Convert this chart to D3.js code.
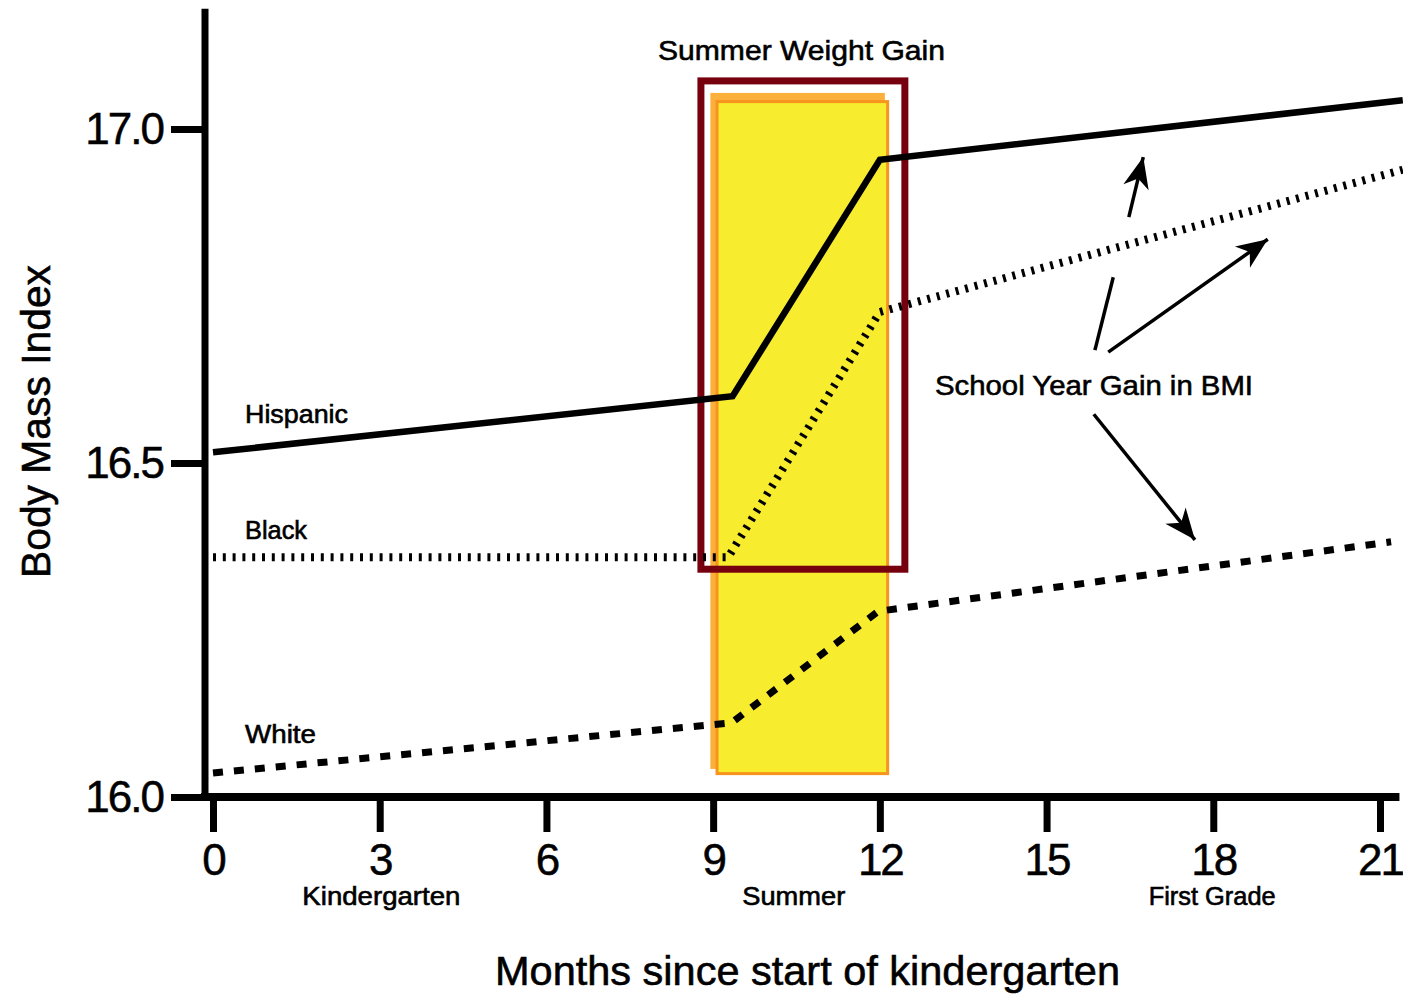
<!DOCTYPE html>
<html>
<head>
<meta charset="utf-8">
<script src="https://cdn.jsdelivr.net/npm/d3@7"></script>
<style>
  html, body { margin: 0; padding: 0; background: #fff; }
  svg { display: block; }
  text { font-family: "Liberation Sans", Arial, sans-serif; fill: #000; }
</style>
</head>
<body>
<svg id="chart" width="1403" height="995"></svg>
<script>
// ---------------- data ----------------
const xTicks = [0, 3, 6, 9, 12, 15, 18, 21];
const yTicks = [16.0, 16.5, 17.0];

const hispanicMonths = [0, 9.35, 12, 21.41];
const hispanicBMI    = [16.516, 16.600, 16.954, 17.043];

const blackMonths = [0, 9.27, 12, 21.41];
const blackBMI    = [16.359, 16.359, 16.726, 16.939];

const whiteMonths = [0, 9.33, 11.97, 21.2];
const whiteBMI    = [16.036, 16.111, 16.278, 16.382];

const seriesNames = ["Hispanic", "Black", "White"];
const periodLabels = ["Kindergarten", "Summer", "First Grade"];
const periodMonths = [3.03, 10.45, 17.98];

// ---------------- scales ----------------
const svg = d3.select("#chart");
const x = d3.scaleLinear().domain([0, 21]).range([213, 1380]);
const y = d3.scaleLinear().domain([16, 17]).range([797, 129]);

// ---------------- summer highlight ----------------
const g = svg.append("g");
g.append("rect")
  .attr("x", x(8.95)).attr("y", y(17.054))
  .attr("width", x(12.09) - x(8.95)).attr("height", y(16.042) - y(17.054))
  .attr("fill", "#fbb03b");
g.append("rect")
  .attr("x", x(9.07)).attr("y", y(17.041))
  .attr("width", x(12.14) - x(9.07)).attr("height", y(16.035) - y(17.041))
  .attr("fill", "#f8ec2f").attr("stroke", "#f7941d").attr("stroke-width", 3);
g.append("rect")
  .attr("x", x(8.78)).attr("y", y(17.072))
  .attr("width", x(12.45) - x(8.78)).attr("height", y(16.341) - y(17.072))
  .attr("fill", "none").attr("stroke", "#77000f").attr("stroke-width", 7);

// ---------------- lines ----------------
const line = d3.line().x(d => x(d[0])).y(d => y(d[1]));
const series = [
  { m: hispanicMonths, v: hispanicBMI, width: 6.5, dash: null },
  { m: blackMonths,    v: blackBMI,    width: 8,   dash: "3,6.8" },
  { m: whiteMonths,    v: whiteBMI,    width: 7,   dash: "10,11" }
];
series.forEach(s => {
  svg.append("path")
    .datum(d3.zip(s.m, s.v))
    .attr("d", line)
    .attr("fill", "none")
    .attr("stroke", "#000")
    .attr("stroke-width", s.width)
    .attr("stroke-dasharray", s.dash);
});

// ---------------- axes ----------------
const yAxis = d3.axisLeft(y).tickValues(yTicks).tickSize(34).tickPadding(8)
  .tickFormat(d3.format(".1f"));
const ya = svg.append("g").attr("transform", "translate(205,0)").call(yAxis);
ya.select(".domain").remove();
ya.selectAll(".tick line").attr("stroke", "#000").attr("stroke-width", 7);
ya.selectAll(".tick text").attr("font-size", 44).attr("letter-spacing", -2)
  .attr("font-family", "Liberation Sans, Arial, sans-serif")
  .attr("stroke", "#000").attr("stroke-width", 0.5);

const xAxis = d3.axisBottom(x).tickValues(xTicks).tickSize(35).tickPadding(12);
const xa = svg.append("g").attr("transform", "translate(0,797)").call(xAxis);
xa.select(".domain").remove();
xa.selectAll(".tick line").attr("stroke", "#000").attr("stroke-width", 7);
xa.selectAll(".tick text").attr("font-size", 44).attr("letter-spacing", -2)
  .attr("font-family", "Liberation Sans, Arial, sans-serif")
  .attr("stroke", "#000").attr("stroke-width", 0.5);

svg.append("line")
  .attr("x1", 205).attr("x2", 205)
  .attr("y1", y(17.18)).attr("y2", y(16) + 4)
  .attr("stroke", "#000").attr("stroke-width", 7);
svg.append("line")
  .attr("x1", 201).attr("x2", x(21.35))
  .attr("y1", y(16)).attr("y2", y(16))
  .attr("stroke", "#000").attr("stroke-width", 8);

// ---------------- arrows ----------------
const defs = svg.append("defs");
defs.append("marker")
  .attr("id", "head")
  .attr("markerUnits", "userSpaceOnUse")
  .attr("viewBox", "-32 -16 34 32")
  .attr("markerWidth", 34).attr("markerHeight", 32)
  .attr("refX", 0).attr("refY", 0)
  .attr("orient", "auto")
  .append("path")
  .attr("d", "M0,0 L-31,-13 L-22,0 L-31,13 Z")
  .attr("fill", "#000");

const arrowSegs = [
  { a: [15.87, 16.669], b: [16.20, 16.778], head: false },
  { a: [16.48, 16.868], b: [16.74, 16.958], head: true },
  { a: [16.11, 16.666], b: [18.98, 16.835], head: true },
  { a: [15.85, 16.573], b: [17.67, 16.385], head: true }
];
arrowSegs.forEach(s => {
  svg.append("line")
    .attr("x1", x(s.a[0])).attr("y1", y(s.a[1]))
    .attr("x2", x(s.b[0])).attr("y2", y(s.b[1]))
    .attr("stroke", "#000").attr("stroke-width", 3.5)
    .attr("marker-end", s.head ? "url(#head)" : null);
});

// ---------------- text ----------------
function label(txt, px, py, size, len, anchor) {
  return svg.append("text")
    .attr("x", px).attr("y", py)
    .attr("font-size", size)
    .attr("text-anchor", anchor || "start")
    .attr("textLength", len)
    .attr("lengthAdjust", "spacingAndGlyphs")
    .attr("stroke", "#000").attr("stroke-width", 0.6)
    .text(txt);
}
label("Summer Weight Gain", 658, 60, 28, 287);
label("School Year Gain in BMI", 935, 395, 28, 318);

label(seriesNames[0], 245, 423, 25, 103);
label(seriesNames[1], 245, 539, 25, 62);
label(seriesNames[2], 245, 743, 25, 71);

const periodWidths = [158, 103, 127];
periodLabels.forEach((p, i) => {
  label(p, x(periodMonths[i]) - periodWidths[i] / 2, 905, 25, periodWidths[i]);
});

label("Months since start of kindergarten", 495, 985, 41, 625);

svg.append("text")
  .attr("transform", "translate(50,578) rotate(-90)")
  .attr("font-size", 41)
  .attr("textLength", 313)
  .attr("lengthAdjust", "spacingAndGlyphs")
  .attr("stroke", "#000").attr("stroke-width", 0.6)
  .text("Body Mass Index");
</script>
</body>
</html>
